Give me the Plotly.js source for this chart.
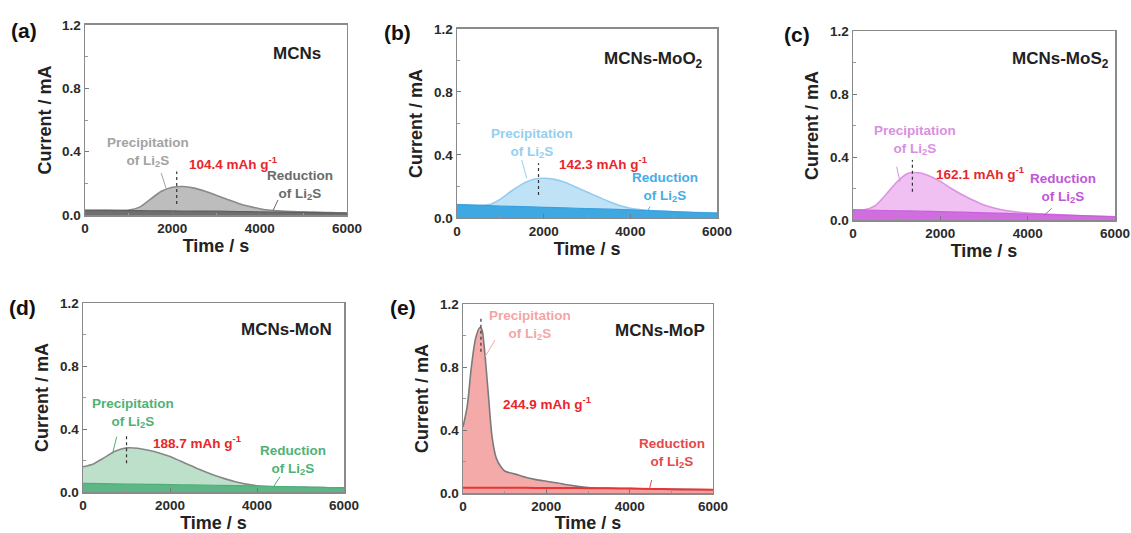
<!DOCTYPE html>
<html>
<head>
<meta charset="utf-8">
<script src="https://cdn.plot.ly/plotly-3.0.1.min.js"></script>
<style>html,body{margin:0;padding:0;background:#fff;}#chart{width:1131px;height:533px;}</style>
</head>
<body>
<div id="chart"></div>
<script>
// ---------- DATA ----------
const timeTotal = [0,250,500,750,1000,1250,1500,1750,2000,2250,2500,2750,3000,3250,3500,3750,4000,4250,4500,4750,5000,5250,5500,5750,6000];
const timeBase = [0,500,1000,1500,2000,2500,3000,3500,4000,4500,5000,5500,6000];
const timeE = [0,100,200,300,400,450,500,600,700,800,900,1000,1250,1500,1750,2000,2250,2500,2750,3000,3500,4000,4500,5000,5500,6000];

const totalA = [0.03,0.03,0.03,0.03,0.031,0.05,0.10,0.15,0.175,0.18,0.17,0.15,0.125,0.10,0.075,0.055,0.04,0.03,0.025,0.022,0.02,0.018,0.016,0.014,0.013];
const baseA  = [0.03,0.029,0.028,0.027,0.026,0.025,0.024,0.022,0.02,0.018,0.016,0.014,0.012];

const totalB = [0.085,0.083,0.08,0.085,0.12,0.17,0.215,0.245,0.252,0.245,0.225,0.195,0.165,0.135,0.105,0.08,0.062,0.052,0.047,0.043,0.04,0.037,0.035,0.033,0.032];
const baseB  = [0.085,0.08,0.076,0.072,0.068,0.064,0.06,0.056,0.052,0.046,0.04,0.035,0.031];

const totalC = [0.065,0.065,0.09,0.16,0.24,0.295,0.30,0.28,0.245,0.20,0.16,0.125,0.095,0.075,0.06,0.05,0.044,0.04,0.036,0.033,0.03,0.027,0.025,0.023,0.021];
const baseC  = [0.065,0.062,0.059,0.056,0.053,0.05,0.046,0.042,0.038,0.034,0.03,0.025,0.02];

const totalD = [0.16,0.18,0.22,0.26,0.28,0.278,0.265,0.248,0.225,0.195,0.165,0.135,0.108,0.085,0.065,0.05,0.04,0.035,0.033,0.031,0.03,0.029,0.028,0.027,0.026];
const baseD  = [0.055,0.053,0.051,0.049,0.047,0.045,0.043,0.041,0.038,0.035,0.032,0.029,0.025];

const totalE = [0.42,0.55,0.8,0.98,1.05,1.04,0.95,0.65,0.35,0.22,0.17,0.14,0.12,0.1,0.085,0.075,0.065,0.052,0.042,0.035,0.03,0.028,0.026,0.024,0.022,0.02];
const baseE  = [0.034,0.034,0.033,0.033,0.032,0.032,0.031,0.03,0.028,0.026,0.024,0.022,0.02];

const panelLabels = ['(a)','(b)','(c)','(d)','(e)'];
const sampleNames = ['MCNs','MCNs-MoO<sub>2</sub>','MCNs-MoS<sub>2</sub>','MCNs-MoN','MCNs-MoP'];
const capacities = ['104.4','142.3','162.1','188.7','244.9'];
const peakTimes = [2100,1880,1360,1000,430];
const xTicks = [0,2000,4000,6000];
const yTicks = [0,0.4,0.8,1.2];

// ---------- STYLE / LAYOUT ----------
const FONT = 'Liberation Sans, Arial, sans-serif';
const panels = [
  {tx: timeTotal, ty: totalA, by: baseA, bx: timeBase,
   fill:'#bdbdbd', line:'#8a8a8a', bfill:'#6f6f6f', bline:'#5f5f5f',
   pcol:'#a3a3a3', rcol:'#6a6a6a',
   dx:[0.0752,0.3068], dy:[0.5966,0.9531], lab:[24,30],
   name:[4855,1.02], prec:[1443,0.395], parr:[1744,0.265,1855,0.17], cap:[3390,0.328],
   dash:[0.07,0.275], red:[4924,0.19], rarr:[4420,0.095,4305,0.027]},
  {tx: timeTotal, ty: totalB, by: baseB, bx: timeBase,
   fill:'#bfe2f7', line:'#92cdee', bfill:'#3ea8e2', bline:'#3aa0dc',
   pcol:'#93d0f0', rcol:'#45ade6',
   dx:[0.4041,0.6340], dy:[0.5910,0.9456], lab:[397,32],
   name:[4530,1.0], prec:[1724,0.474], parr:[1493,0.368,1608,0.252], cap:[3376,0.347],
   dash:[0.146,0.347], red:[4800,0.199], rarr:[4454,0.072,4338,0.02]},
  {tx: timeTotal, ty: totalC, by: baseC, bx: timeBase,
   fill:'#f0c0f2', line:'#dc92e2', bfill:'#d06ee0', bline:'#c860da',
   pcol:'#d98fe2', rcol:'#c255d8',
   dx:[0.7542,0.9859], dy:[0.5872,0.9418], lab:[797,34],
   name:[4740,1.016], prec:[1420,0.508], parr:[1000,0.338,1076,0.243], cap:[2908,0.296],
   dash:[0.18,0.381], red:[4816,0.201], rarr:[4550,0.074,4359,0.025]},
  {tx: timeTotal, ty: totalD, by: baseD, bx: timeBase,
   fill:'#bce0c9', line:'#878787', bfill:'#5db686', bline:'#4fae7a',
   pcol:'#4fb274', rcol:'#4fb274',
   dx:[0.0734,0.3042], dy:[0.0769,0.4315], lab:[22,307],
   name:[4683,1.029], prec:[1157,0.5], parr:[774,0.351,682,0.246], cap:[2614,0.319],
   dash:[0.182,0.373], red:[4835,0.203], rarr:[4529,0.097,4338,0.017]},
  {tx: timeE, ty: totalE, by: baseE, bx: timeBase,
   fill:'#f5aaaa', line:'#7a7a7a', bfill:'#f0a0a0', bline:'#e83434',
   pcol:'#f5a5a5', rcol:'#e84848',
   dx:[0.4094,0.6304], dy:[0.0750,0.4296], lab:[403,307],
   name:[4728,1.035], prec:[1608,1.067], parr:[768,0.971,528,0.865], cap:[2009,0.57],
   dash:[0.897,1.109], red:[5008,0.252], rarr:[4528,0.083,4472,0.023]}
];

const traces = [];
const layout = {
  width:1131, height:533, margin:{l:0,r:0,t:0,b:0},
  paper_bgcolor:'#fff', plot_bgcolor:'#fff', showlegend:false,
  font:{family:FONT, color:'#333'},
  annotations:[], shapes:[]
};

panels.forEach((p,i)=>{
  const n = i===0 ? '' : String(i+1);
  const xa = 'x'+n, ya = 'y'+n;
  traces.push({x:p.tx, y:p.ty, xaxis:xa, yaxis:ya, type:'scatter', mode:'lines',
    line:{color:p.line, width:1.6, shape:'spline', smoothing:0.8}, fill:'tozeroy', fillcolor:p.fill, hoverinfo:'skip'});
  traces.push({x:p.bx, y:p.by, xaxis:xa, yaxis:ya, type:'scatter', mode:'lines',
    line:{color:p.bline, width:i===4?2:1.2, shape:'spline'}, fill:'tozeroy', fillcolor:p.bfill, hoverinfo:'skip'});
  const axCommon = {showgrid:false, zeroline:false, showline:true, linecolor:'#8a8a8a', linewidth:1.5, mirror:true,
    ticks:'inside', ticklen:4, tickwidth:1, tickcolor:'#777',
    tickfont:{family:FONT, size:13.5, color:'#2a2a2a'},
    minor:{ticks:'inside', ticklen:2.5, tickcolor:'#999'}};
  layout['xaxis'+n] = Object.assign({}, axCommon, {domain:p.dx, anchor:ya, range:[0,6000], tickvals:xTicks,
    ticktext:xTicks.map(v=>'<b>'+v+'</b>'), minor:Object.assign({}, axCommon.minor, {dtick:1000}),
    title:{text:'<b>Time / s</b>', font:{family:FONT, size:18, color:'#222'}, standoff:4}});
  layout['yaxis'+n] = Object.assign({}, axCommon, {domain:p.dy, anchor:xa, range:[0,1.2], tickvals:yTicks,
    ticktext:yTicks.map(v=>'<b>'+v.toFixed(1)+'</b>'), minor:Object.assign({}, axCommon.minor, {tickvals:[0.2,0.6,1.0]}),
    title:{text:'<b>Current / mA</b>', font:{family:FONT, size:18, color:'#222'}, standoff:6}});
  const A = layout.annotations;
  A.push({xref:'paper', yref:'paper', x:p.lab[0]/1131, y:1-p.lab[1]/533, xanchor:'center', yanchor:'middle',
    text:'<b>'+panelLabels[i]+'</b>', showarrow:false, font:{family:FONT, size:21, color:'#111'}});
  A.push({xref:xa, yref:ya, x:p.name[0], y:p.name[1], text:'<b>'+sampleNames[i]+'</b>', showarrow:false,
    font:{family:FONT, size:17, color:'#222'}});
  A.push({xref:xa, yref:ya, x:p.prec[0], y:p.prec[1], text:'<b>Precipitation<br>of Li<sub>2</sub>S</b>', showarrow:false,
    font:{family:FONT, size:13.5, color:p.pcol}, align:'center'});
  A.push({xref:xa, yref:ya, x:p.cap[0], y:p.cap[1], text:'<b>'+capacities[i]+' mAh g<sup>-1</sup></b>', showarrow:false,
    font:{family:FONT, size:13.5, color:'#e8262b'}});
  A.push({xref:xa, yref:ya, x:p.red[0], y:p.red[1], text:'<b>Reduction<br>of Li<sub>2</sub>S</b>', showarrow:false,
    font:{family:FONT, size:13.5, color:p.rcol}, align:'center'});
  const S = layout.shapes;
  S.push({type:'line', xref:xa, yref:ya, x0:peakTimes[i], x1:peakTimes[i], y0:p.dash[0], y1:p.dash[1],
    line:{color:'#333', width:1.2, dash:'dot'}});
  S.push({type:'line', xref:xa, yref:ya, x0:p.parr[0], y0:p.parr[1], x1:p.parr[2], y1:p.parr[3],
    line:{color:p.pcol, width:1}});
  S.push({type:'line', xref:xa, yref:ya, x0:p.rarr[0], y0:p.rarr[1], x1:p.rarr[2], y1:p.rarr[3],
    line:{color:p.rcol, width:1}});
});

Plotly.newPlot('chart', traces, layout, {staticPlot:true, displayModeBar:false});
</script>
</body>
</html>
